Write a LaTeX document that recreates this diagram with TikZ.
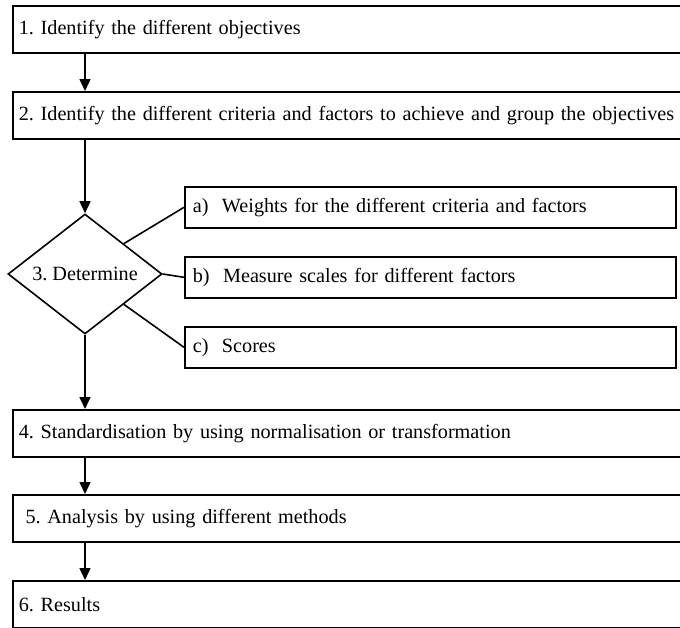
\documentclass[tikz,border=0pt]{standalone}
\usepackage{fontspec}
\setmainfont{Liberation Serif}
\usetikzlibrary{shapes.geometric,arrows.meta}
\frenchspacing

\begin{document}
\begin{tikzpicture}[x=1pt, y=-1pt,
	every node/.style={font=\fontsize{20.2}{24}\selectfont},
	stepbox/.style={draw, line width=1.6pt, anchor=north west, minimum height=47pt,
		text width=700pt, inner xsep=6pt, align=left},
	subbox/.style={draw, line width=1.6pt, anchor=north west, minimum height=41pt,
		text width=475pt, inner xsep=8pt, align=left},
	flow/.style={line width=1.6pt, -{Triangle[length=12pt, width=11pt]}},
	link/.style={line width=1.6pt}]
	\useasboundingbox (0,0) rectangle (680,627);
	% main steps
	\node[stepbox] (s1) at (12,5) {1. Identify the different objectives};
	\node[stepbox] (s2) at (12,91) {2. Identify the different criteria and factors to achieve and group the objectives};
	\node[draw, diamond, line width=1.6pt, minimum width=154pt, minimum height=120pt,
		inner sep=0pt] (dm) at (85,274) {3. Determine};
	\node[stepbox] (s4) at (12,409) {4. Standardisation by using normalisation or transformation};
	\node[stepbox] (s5) at (12,494) {\ 5. Analysis by using different methods};
	\node[stepbox] (s6) at (12,580) {6. Results};
	% things to determine
	\node[subbox] (wa) at (184,186) {a)\ \ Weights for the different criteria and factors};
	\node[subbox] (wb) at (184,256) {b)\ \ Measure scales for different factors};
	\node[subbox] (wc) at (184,326) {c)\ \ Scores};
	
	\draw[flow] (s1.south -| dm.north) -- (dm.north |- s2.north);
	\draw[flow] (s2.south -| dm.north) -- (dm.north);
	\draw[flow] (dm.south) -- (dm.south |- s4.north);
	\draw[flow] (s4.south -| dm.north) -- (dm.north |- s5.north);
	\draw[flow] (s5.south -| dm.north) -- (dm.north |- s6.north);
	\draw[link] (dm.north east) -- (wa.west);
	\draw[link] (dm.east) -- (wb.west);
	\draw[link] (dm.south east) -- (wc.west);
\end{tikzpicture}
\end{document}
